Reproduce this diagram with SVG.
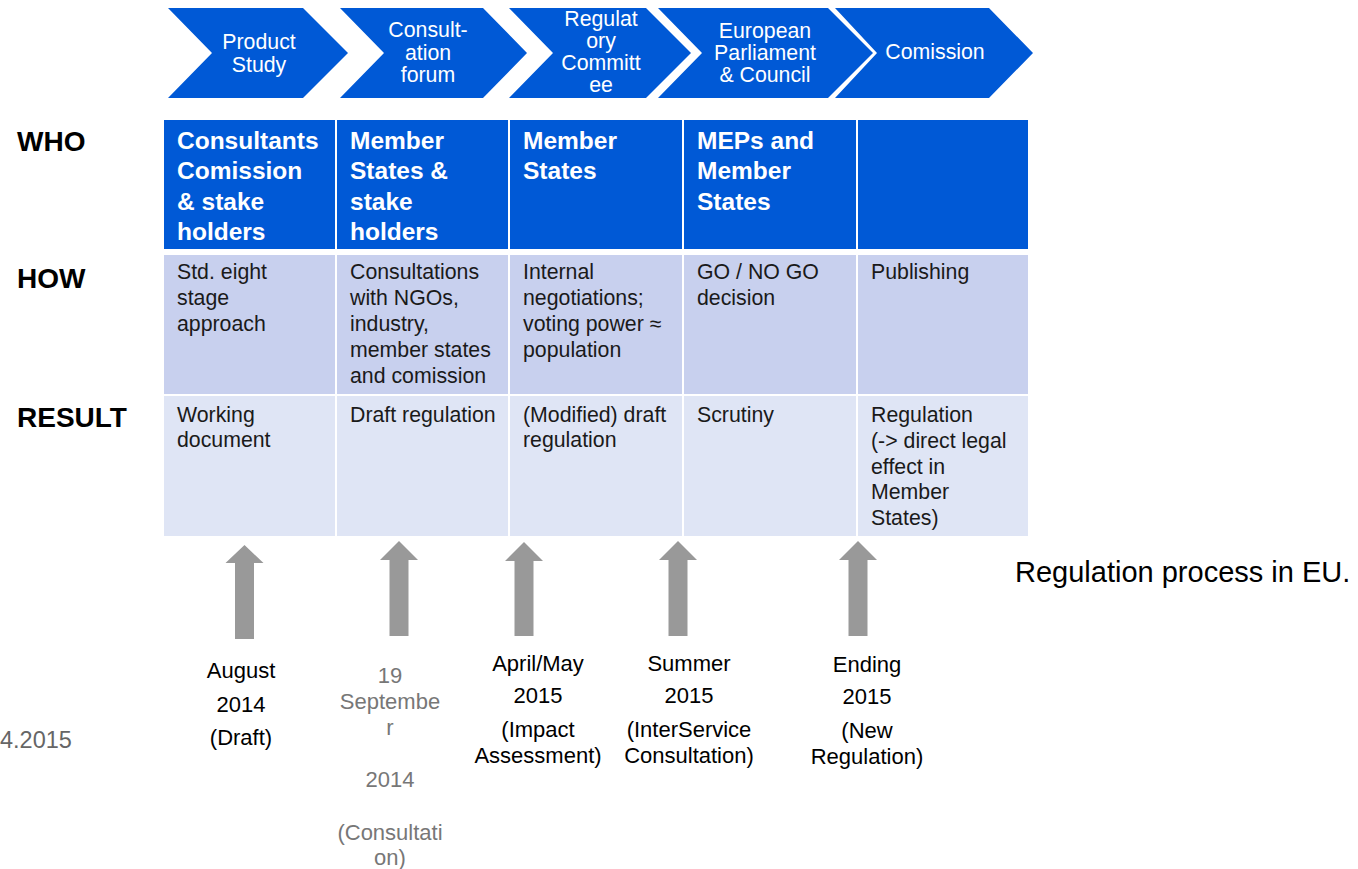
<svg xmlns="http://www.w3.org/2000/svg" width="1358" height="869" viewBox="0 0 1358 869">
<style>
text{font-family:"Liberation Sans",Arial,sans-serif}
.chev{fill:#0059D6}
.ct{fill:#fff;font-size:21.3px;text-anchor:middle}
.hd{fill:#0059D6}
.ht{fill:#fff;font-size:24.5px;font-weight:bold}
.r2{fill:#C8D0EE}
.r3{fill:#DFE5F5}
.bt{fill:#1a1a1a;font-size:21.3px}
.lab{fill:#000;font-size:28px;font-weight:bold}
.arr{fill:#999}
.dt{fill:#000;font-size:22px;text-anchor:middle}
.dg{fill:#777;font-size:22px;text-anchor:middle}
</style>
<rect width="1358" height="869" fill="#fff"/>
<g id="stage-product-study">
<polygon class="chev" points="168,8 303,8 348,53 303,98 168,98 212,53"/>
<text class="ct" x="259" y="49">Product</text>
<text class="ct" x="259" y="72">Study</text>
</g>
<g id="stage-consultation-forum">
<polygon class="chev" points="340,8 483,8 527,53 483,98 340,98 384,53"/>
<text class="ct" x="428" y="37">Consult-</text>
<text class="ct" x="428" y="60">ation</text>
<text class="ct" x="428" y="82">forum</text>
</g>
<g id="stage-regulatory-committee">
<polygon class="chev" points="509,8 646,8 691,53 646,98 509,98 553,53"/>
<text class="ct" x="601" y="26">Regulat</text>
<text class="ct" x="601" y="48">ory</text>
<text class="ct" x="601" y="70">Committ</text>
<text class="ct" x="601" y="92">ee</text>
</g>
<g id="stage-parliament-council">
<polygon class="chev" points="658,8 828,8 873,53 828,98 658,98 702,53"/>
<text class="ct" x="765" y="38">European</text>
<text class="ct" x="765" y="60">Parliament</text>
<text class="ct" x="765" y="82">&amp; Council</text>
</g>
<g id="stage-comission">
<polygon class="chev" points="835,8 989,8 1033,53 989,98 835,98 877,53"/>
<text class="ct" x="935" y="59">Comission</text>
</g>
<g id="row-labels">
<text class="lab" x="17" y="151">WHO</text>
<text class="lab" x="17" y="288">HOW</text>
<text class="lab" x="17" y="427">RESULT</text>
</g>
<g id="col-1">
<rect class="hd" x="164" y="120" width="171" height="129"/>
<rect class="r2" x="164" y="255" width="171" height="139"/>
<rect class="r3" x="164" y="396" width="171" height="140"/>
<text class="ht" x="177" y="149">Consultants</text>
<text class="ht" x="177" y="179">Comission</text>
<text class="ht" x="177" y="210">&amp; stake</text>
<text class="ht" x="177" y="240">holders</text>
<text class="bt" x="177" y="279">Std. eight</text>
<text class="bt" x="177" y="305">stage</text>
<text class="bt" x="177" y="331">approach</text>
<text class="bt" x="177" y="422">Working</text>
<text class="bt" x="177" y="447">document</text>
</g>
<g id="col-2">
<rect class="hd" x="337" y="120" width="171" height="129"/>
<rect class="r2" x="337" y="255" width="171" height="139"/>
<rect class="r3" x="337" y="396" width="171" height="140"/>
<text class="ht" x="350" y="149">Member</text>
<text class="ht" x="350" y="179">States &amp;</text>
<text class="ht" x="350" y="210">stake</text>
<text class="ht" x="350" y="240">holders</text>
<text class="bt" x="350" y="279">Consultations</text>
<text class="bt" x="350" y="305">with NGOs,</text>
<text class="bt" x="350" y="331">industry,</text>
<text class="bt" x="350" y="357">member states</text>
<text class="bt" x="350" y="383">and comission</text>
<text class="bt" x="350" y="422">Draft regulation</text>
</g>
<g id="col-3">
<rect class="hd" x="510" y="120" width="172" height="129"/>
<rect class="r2" x="510" y="255" width="172" height="139"/>
<rect class="r3" x="510" y="396" width="172" height="140"/>
<text class="ht" x="523" y="149">Member</text>
<text class="ht" x="523" y="179">States</text>
<text class="bt" x="523" y="279">Internal</text>
<text class="bt" x="523" y="305">negotiations;</text>
<text class="bt" x="523" y="331">voting power ≈</text>
<text class="bt" x="523" y="357">population</text>
<text class="bt" x="523" y="422">(Modified) draft</text>
<text class="bt" x="523" y="447">regulation</text>
</g>
<g id="col-4">
<rect class="hd" x="684" y="120" width="172" height="129"/>
<rect class="r2" x="684" y="255" width="172" height="139"/>
<rect class="r3" x="684" y="396" width="172" height="140"/>
<text class="ht" x="697" y="149">MEPs and</text>
<text class="ht" x="697" y="179">Member</text>
<text class="ht" x="697" y="210">States</text>
<text class="bt" x="697" y="279">GO / NO GO</text>
<text class="bt" x="697" y="305">decision</text>
<text class="bt" x="697" y="422">Scrutiny</text>
</g>
<g id="col-5">
<rect class="hd" x="858" y="120" width="170" height="129"/>
<rect class="r2" x="858" y="255" width="170" height="139"/>
<rect class="r3" x="858" y="396" width="170" height="140"/>
<text class="bt" x="871" y="279">Publishing</text>
<text class="bt" x="871" y="422">Regulation</text>
<text class="bt" x="871" y="448">(-&gt; direct legal</text>
<text class="bt" x="871" y="474">effect in</text>
<text class="bt" x="871" y="499">Member</text>
<text class="bt" x="871" y="525">States)</text>
</g>
<g id="connectors">
<polygon class="arr" points="244.5,545 263.5,563 254,563 254,639 235,639 235,563 225.5,563"/>
<polygon class="arr" points="399,541 418,560 408.5,560 408.5,636 389.5,636 389.5,560 380,560"/>
<polygon class="arr" points="524,542 543,561 533.5,561 533.5,636 514.5,636 514.5,561 505,561"/>
<polygon class="arr" points="678,541 697,560 687.5,560 687.5,636 668.5,636 668.5,560 659,560"/>
<polygon class="arr" points="858,541 877,560 867.5,560 867.5,636 848.5,636 848.5,560 839,560"/>
</g>
<g id="date-aug-2014">
<text class="dt" x="241" y="678">August</text>
<text class="dt" x="241" y="712">2014</text>
<text class="dt" x="241" y="745">(Draft)</text>
</g>
<g id="date-sep-2014">
<text class="dg" x="390" y="683">19</text>
<text class="dg" x="390" y="709">Septembe</text>
<text class="dg" x="390" y="735">r</text>
<text class="dg" x="390" y="787">2014</text>
<text class="dg" x="390" y="840">(Consultati</text>
<text class="dg" x="390" y="865">on)</text>
</g>
<g id="date-apr-2015">
<text class="dt" x="538" y="671">April/May</text>
<text class="dt" x="538" y="703">2015</text>
<text class="dt" x="538" y="737">(Impact</text>
<text class="dt" x="538" y="763">Assessment)</text>
</g>
<g id="date-summer-2015">
<text class="dt" x="689" y="671">Summer</text>
<text class="dt" x="689" y="703">2015</text>
<text class="dt" x="689" y="737">(InterService</text>
<text class="dt" x="689" y="763">Consultation)</text>
</g>
<g id="date-end-2015">
<text class="dt" x="867" y="672">Ending</text>
<text class="dt" x="867" y="704">2015</text>
<text class="dt" x="867" y="738">(New</text>
<text class="dt" x="867" y="764">Regulation)</text>
</g>
<text x="0" y="748" font-size="23.5" fill="#666" style="font-family:'Liberation Sans',Arial,sans-serif">4.2015</text>
<text x="1015" y="582" font-size="29" fill="#000" style="font-family:'Liberation Sans',Arial,sans-serif">Regulation process in EU.</text>
</svg>
